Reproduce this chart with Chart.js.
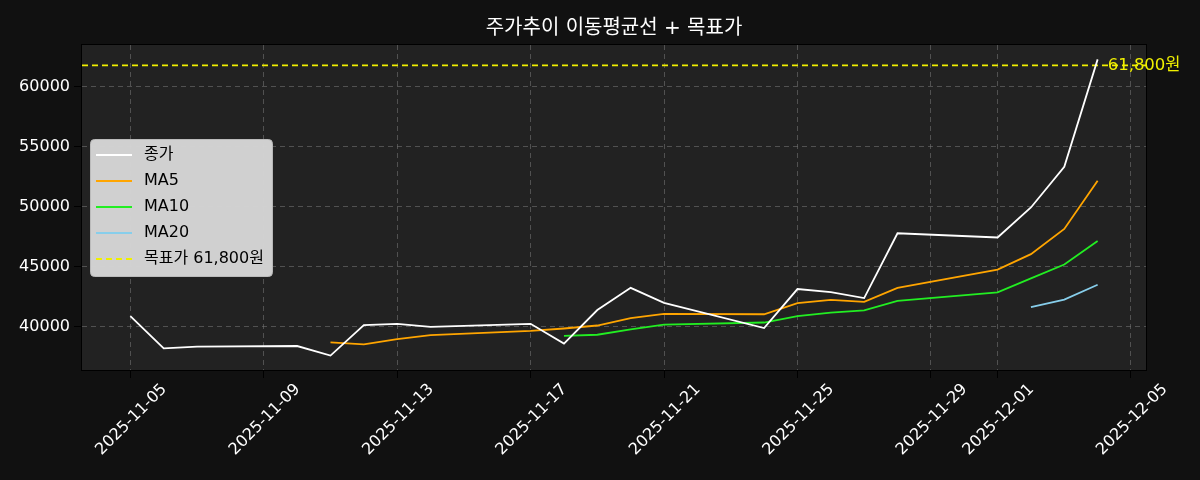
<!DOCTYPE html>
<html>
<head>
<meta charset="utf-8">
<script src="https://cdn.jsdelivr.net/npm/chart.js@4/dist/chart.umd.min.js"></script>
<style>
  html, body { margin: 0; background: #111111; }
  #wrap { width: 1200px; height: 480px; }
</style>
</head>
<body>
<div id="wrap"><canvas id="chart" width="1200" height="480"></canvas></div>
<script>
const titleText = "주가추이 이동평균선 + 목표가";

const dates = [
  "2025-11-05", "2025-11-06", "2025-11-07", "2025-11-10", "2025-11-11", "2025-11-12",
  "2025-11-13", "2025-11-14", "2025-11-17", "2025-11-18", "2025-11-19", "2025-11-20",
  "2025-11-21", "2025-11-24", "2025-11-25", "2025-11-26", "2025-11-27", "2025-11-28",
  "2025-12-01", "2025-12-02", "2025-12-03", "2025-12-04",
];

const closePrices = [
  40900, 38200, 38350, 38400, 37600, 40150, 40250, 40000, 40250, 38600, 41400,
  43250, 42000, 39900, 43150, 42900, 42400, 47800, 47450, 49950, 53350, 62300,
];
const ma5 = [
  null, null, null, null, 38700, 38530, 38980, 39310, 39670, 39860, 40110,
  40720, 41080, 41050, 41970, 42240, 42080, 43240, 44770, 46060, 48160, 52180,
];
const ma10 = [
  null, null, null, null, null, null, null, null, null, 39250, 39340,
  39780, 40190, 40360, 40890, 41190, 41380, 42160, 42880, 44040, 45200, 47150,
];
const ma20 = [
  null, null, null, null, null, null, null, null, null, null, null,
  null, null, null, null, null, null, null, null, 41640, 42270, 43510,
];

const targetPrice = 61800;
const targetLabel = "목표가 61,800원";

const xTickDates = [
  "2025-11-05", "2025-11-09", "2025-11-13", "2025-11-17", "2025-11-21",
  "2025-11-25", "2025-11-29", "2025-12-01", "2025-12-05",
];
const yTicks = [40000, 45000, 50000, 55000, 60000];

const FONT = "'DejaVu Sans', 'Noto Sans CJK KR', sans-serif";
const DAY = 86400000;

function toDay(s) {
  const [y, m, d] = s.split("-").map(Number);
  return Date.UTC(y, m - 1, d) / DAY;
}
function fmtDay(v) {
  return new Date(Math.round(v) * DAY).toISOString().slice(0, 10);
}

function points(values) {
  return dates.map((d, i) => ({ x: toDay(d), y: values[i] })).filter((p) => p.y !== null);
}

const firstDay = toDay(dates[0]);
const lastDay = toDay(dates[dates.length - 1]);
const pad = (lastDay - firstDay) * 0.05;
const xMin = firstDay - pad;
const xMax = lastDay + pad;

const lineStyle = { fill: false, pointRadius: 0, borderWidth: 1.8, tension: 0 };

const datasets = [
  { label: "종가", data: points(closePrices), borderColor: "#ffffff", ...lineStyle },
  { label: "MA5", data: points(ma5), borderColor: "#ffa500", ...lineStyle },
  { label: "MA10", data: points(ma10), borderColor: "#22ee22", ...lineStyle },
  { label: "MA20", data: points(ma20), borderColor: "#87ceeb", ...lineStyle },
  {
    label: targetLabel,
    data: [{ x: xMin, y: targetPrice }, { x: xMax, y: targetPrice }],
    borderColor: "#f0f000",
    borderDash: [6, 4],
    ...lineStyle,
    borderWidth: 1.6,
  },
];

const background = {
  id: "background",
  beforeDraw(chart) {
    const { ctx, chartArea: a } = chart;
    ctx.save();
    ctx.fillStyle = "#111111";
    ctx.fillRect(0, 0, chart.width, chart.height);
    ctx.fillStyle = "#222222";
    ctx.fillRect(a.left, a.top, a.right - a.left, a.bottom - a.top);
    ctx.restore();
  },
  afterDraw(chart) {
    const { ctx, chartArea: a, scales } = chart;
    ctx.save();
    // frame
    ctx.strokeStyle = "#000000";
    ctx.lineWidth = 1;
    ctx.strokeRect(a.left - 0.5, a.top - 0.5, a.right - a.left + 1, a.bottom - a.top + 1);

    // title
    ctx.fillStyle = "#ffffff";
    ctx.font = `20px ${FONT}`;
    ctx.textAlign = "center";
    ctx.textBaseline = "middle";
    ctx.fillText(titleText, (a.left + a.right) / 2, 29);

    // target label
    ctx.fillStyle = "#f0f000";
    ctx.font = `16.5px ${FONT}`;
    ctx.textAlign = "left";
    ctx.fillText("61,800원", scales.x.getPixelForValue(lastDay) + 10, scales.y.getPixelForValue(targetPrice));

    // legend
    ctx.font = `16px ${FONT}`;
    const maxW = Math.max(...chart.data.datasets.map((ds) => ctx.measureText(ds.label).width));
    const lx = 90, ly = 139, lh = 137;
    const lw = Math.max(164, 54 + maxW + 8);
    ctx.fillStyle = "rgba(214,214,214,0.97)";
    ctx.strokeStyle = "#bbbbbb";
    ctx.beginPath();
    ctx.roundRect(lx + 0.5, ly + 0.5, lw, lh, 4);
    ctx.fill();
    ctx.stroke();
    ctx.textBaseline = "middle";
    chart.data.datasets.forEach((ds, i) => {
      const y = ly + 16 + i * 26;
      ctx.strokeStyle = ds.borderColor;
      ctx.lineWidth = 2;
      ctx.setLineDash(ds.borderDash || []);
      ctx.beginPath();
      ctx.moveTo(lx + 6, y);
      ctx.lineTo(lx + 42, y);
      ctx.stroke();
      ctx.setLineDash([]);
      ctx.fillStyle = "#000000";
      ctx.fillText(ds.label, lx + 54, y);
    });
    ctx.restore();
  },
};

const grid = {
  color: "rgba(120,120,120,0.55)",
  tickColor: "#000000",
  tickLength: 8,
  lineWidth: 1,
};

new Chart(document.getElementById("chart"), {
  type: "line",
  data: { datasets },
  options: {
    responsive: false,
    animation: false,
    layout: { padding: { top: 45, right: 54, left: 0, bottom: 0 } },
    plugins: { legend: { display: false }, title: { display: false }, tooltip: { enabled: false } },
    scales: {
      x: {
        type: "linear",
        min: xMin,
        max: xMax,
        grid,
        border: { display: false, dash: [5, 4] },
        afterBuildTicks: (s) => { s.ticks = xTickDates.map((d) => ({ value: toDay(d) })); },
        afterFit: (s) => { s.height = 110; },
        ticks: {
          color: "#ffffff",
          font: { family: FONT, size: 16 },
          minRotation: 45,
          maxRotation: 45,
          labelOffset: 34,
          padding: 2,
          callback: (v) => fmtDay(v),
        },
      },
      y: {
        min: 36400,
        max: 63500,
        grid,
        border: { display: false, dash: [5, 4] },
        afterBuildTicks: (s) => { s.ticks = yTicks.map((v) => ({ value: v })); },
        afterFit: (s) => { s.width = 82; },
        ticks: {
          color: "#ffffff",
          font: { family: FONT, size: 16 },
          padding: 4,
          callback: (v) => String(v),
        },
      },
    },
  },
  plugins: [background],
});
</script>
</body>
</html>
